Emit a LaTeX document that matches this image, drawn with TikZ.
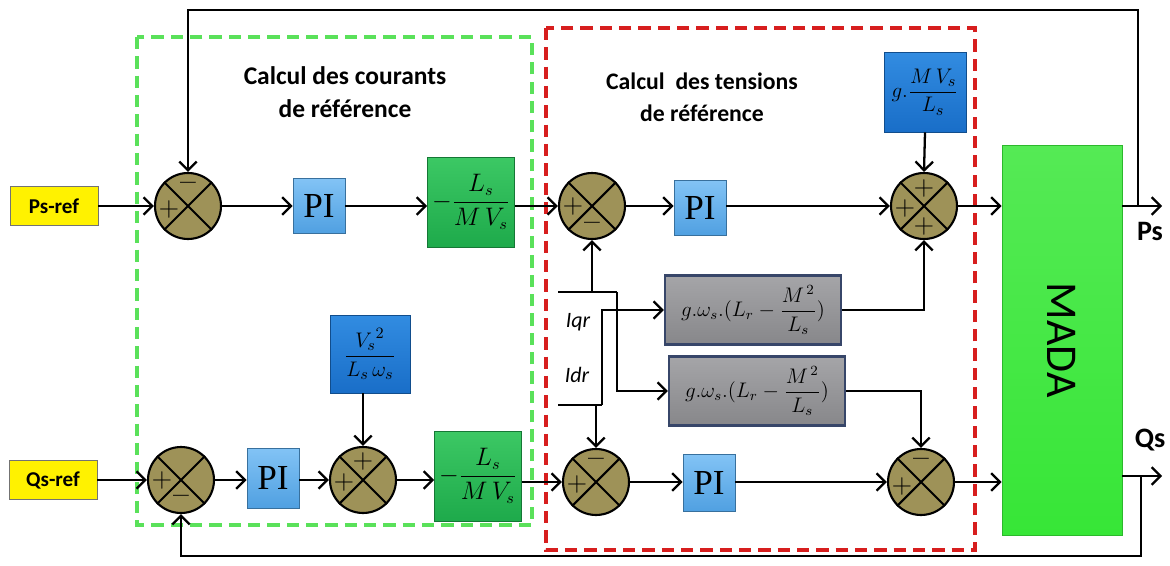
\documentclass[tikz,border=0pt]{standalone}
\usepackage{fontspec}
\usepackage{amsmath}
\usetikzlibrary{arrows.meta}
\newfontfamily\calfont{Carlito}
\newfontfamily\tnrfont{Liberation Serif}
\definecolor{sumc}{RGB}{158,146,88}
\definecolor{pic}{RGB}{80,160,225}
\definecolor{pilight}{RGB}{130,195,245}
\definecolor{gainc}{RGB}{30,170,75}
\definecolor{gainlight}{RGB}{60,200,100}
\definecolor{bluec}{RGB}{25,110,200}
\definecolor{bluelight}{RGB}{50,140,225}
\definecolor{grayc}{RGB}{135,135,138}
\definecolor{graylight}{RGB}{165,165,168}
\definecolor{grayedge}{RGB}{55,70,105}
\definecolor{madac}{RGB}{55,230,55}
\definecolor{gdashc}{RGB}{90,225,90}
\definecolor{rdashc}{RGB}{215,30,30}
\newcommand\sumX[1]{\draw[line width=1.2pt] (#1.north west) -- (#1.south east) (#1.north east) -- (#1.south west);}
\tikzset{
  wire/.style={line width=1.3pt},
  arr/.style={wire,-{Straight Barb[length=5pt,width=10pt]}},
  sumj/.style={circle, draw=black, line width=1.2pt, fill=sumc, minimum size=1.32cm, inner sep=0pt},
  refbox/.style={draw=black!55, fill=yellow, minimum width=1.76cm, minimum height=0.78cm, inner sep=0pt, font=\calfont\bfseries\fontsize{12}{14}\selectfont},
  pibox/.style={draw=pic!70!black, top color=pilight, bottom color=pic, minimum width=1.04cm, minimum height=1.1cm, inner sep=0pt, font=\tnrfont\fontsize{20}{22}\selectfont},
  gainbox/.style={draw=gainc!70!black, top color=gainlight, bottom color=gainc, minimum width=1.74cm, minimum height=1.8cm, inner sep=0pt, font=\fontsize{13.5}{15}\selectfont},
  bluebox/.style={draw=bluec!70!black, top color=bluelight, bottom color=bluec, minimum width=1.64cm, minimum height=1.6cm, inner sep=0pt, font=\fontsize{12.5}{14}\selectfont},
  graybox/.style={draw=grayedge, line width=1.2pt, top color=graylight, bottom color=grayc, minimum width=3.52cm, minimum height=1.38cm, inner sep=0pt, font=\fontsize{12}{14}\selectfont},
  sgn/.style={font=\fontsize{16}{16}\selectfont, inner sep=0pt},
  title/.style={align=center, font=\calfont\bfseries\fontsize{13.5}{18}\selectfont},
  lbl/.style={font=\calfont\bfseries\fontsize{16}{18}\selectfont},
  ilbl/.style={font=\calfont\itshape\fontsize{12.5}{14}\selectfont},
  gdash/.style={draw=gdashc, line width=2.2pt, dash pattern=on 7pt off 4pt},
  rdash/.style={draw=rdashc, line width=2.2pt, dash pattern=on 7pt off 4pt}
}
\begin{document}
\begin{tikzpicture}[x=0.02cm,y=-0.02cm]
\useasboundingbox (0,0) rectangle (1170,565);
% dashed groups
\draw[gdash] (137,37) rectangle (532,525);
\draw[rdash] (546,28) rectangle (975,550);
\node[title, font=\calfont\bfseries\fontsize{14.5}{19}\selectfont] (t1) at (345,92) {Calcul des courants\\de référence};
\node[title] (t2) at (702,97) {Calcul \ des tensions\\de référence};
% top row
\node[refbox] (psref) at (54,206) {Ps-ref};
\node[sumj] (S1) at (188,206) {};
\node[pibox] (PI1) at (319,206) {PI};
\node[gainbox] (G1) at (471,202) {$-\dfrac{L_s}{M\,V_s}$};
\node[sumj] (S2) at (592,206) {};
\node[pibox] (PI2) at (700,208) {PI};
\node[sumj] (S3) at (924,206) {};
\node[bluebox] (B1) at (925,92) {$g.\dfrac{M\,V_s}{L_s}$};
\node[draw=madac!80!black, top color=madac!85!white, bottom color=madac, minimum width=2.4cm, minimum height=7.8cm, inner sep=0pt] (MADA) at (1062,340) {};
\node[rotate=-90, font=\calfont\fontsize{25}{27}\selectfont] (madat) at (MADA.center) {MADA};
% bottom row
\node[refbox] (qsref) at (53,480) {Qs-ref};
\node[sumj] (Q1) at (181,480) {};
\node[pibox, minimum height=1.2cm] (PIQ1) at (273,478) {PI};
\node[sumj] (Q2) at (363,480) {};
\node[bluebox, minimum width=1.6cm, minimum height=1.56cm] (B2) at (370,354) {$\dfrac{{V_s}^2}{L_s\,\omega_s}$};
\node[gainbox] (G2) at (478,476) {$-\dfrac{L_s}{M\,V_s}$};
\node[sumj] (Q3) at (596,482) {};
\node[pibox, minimum height=1.14cm] (PIQ2) at (709,483) {PI};
\node[sumj] (Q4) at (921,482) {};
% gray blocks
\node[graybox] (GR1) at (753,310) {$g.\omega_s.(L_r-\dfrac{M^{\,2}}{L_s})$};
\node[graybox] (GR2) at (757,391) {$g.\omega_s.(L_r-\dfrac{M^{\,2}}{L_s})$};
% summing junction crosses
\sumX{S1}\sumX{S2}\sumX{S3}\sumX{Q1}\sumX{Q2}\sumX{Q3}\sumX{Q4}
% signs
\node[sgn] at ([shift={(-19,3)}]S1.center) {+};
\node[sgn] at ([shift={(0,-20)}]S1.center) {\textbf{--}};
\node[sgn] at ([shift={(-19,0)}]S2.center) {+};
\node[sgn] at ([shift={(0,20)}]S2.center) {\textbf{--}};
\node[sgn] at ([shift={(0,-18)}]S3.center) {+};
\node[sgn] at ([shift={(-19,2)}]S3.center) {+};
\node[sgn] at ([shift={(0,20)}]S3.center) {+};
\node[sgn] at ([shift={(-19,0)}]Q1.center) {+};
\node[sgn] at ([shift={(0,19)}]Q1.center) {\textbf{--}};
\node[sgn] at ([shift={(0,-19)}]Q2.center) {+};
\node[sgn] at ([shift={(-19,2)}]Q2.center) {+};
\node[sgn] at ([shift={(-19,2)}]Q3.center) {+};
\node[sgn] at ([shift={(0,-20)}]Q3.center) {\textbf{--}};
\node[sgn] at ([shift={(-19,4)}]Q4.center) {+};
\node[sgn] at ([shift={(0,-20)}]Q4.center) {\textbf{--}};
% top row connectors
\draw[arr] (psref.east) -- (S1.west);
\draw[arr] (S1.east) -- (PI1.west);
\draw[arr] (PI1.east) -- (G1.west |- PI1);
\draw[arr] (G1.east |- S2) -- (S2.west);
\draw[arr] (S2.east) -- (PI2.west |- S2);
\draw[arr] (PI2.east |- S3) -- (S3.west);
\draw[arr] (B1.south) -- (S3.north);
\draw[arr] (S3.east) -- (S3.east -| MADA.west);
\coordinate (psend) at (1162,206);
\coordinate (pstap) at (1138,206);
\coordinate (topR) at (1138,10);
\draw[arr] (S3.east -| MADA.east) -- (psend);
\draw[arr] (pstap) -- (topR) -| (S1.north);
\node[lbl] (ps) at (1150,231) {Ps};
% bottom row connectors
\draw[arr] (qsref.east) -- (Q1.west);
\draw[arr] (Q1.east) -- (PIQ1.west |- Q1);
\draw[arr] (PIQ1.east |- Q2) -- (Q2.west);
\draw[arr] (B2.south -| Q2) -- (Q2.north);
\draw[arr] (Q2.east) -- (G2.west |- Q2);
\draw[arr] (G2.east |- Q3) -- (Q3.west);
\draw[arr] (Q3.east) -- (PIQ2.west |- Q3);
\draw[arr] (PIQ2.east |- Q4) -- (Q4.west);
\draw[arr] (Q4.east) -- (Q4.east -| MADA.west);
\coordinate (qsend) at (1162,476);
\coordinate (qstap) at (1141,476);
\coordinate (botR) at (1141,556);
\draw[arr] (qsend -| MADA.east) -- (qsend);
\draw[arr] (qstap) -- (botR) -| (Q1.south);
\node[lbl] (qs) at (1150,440) {Qs};
% Iqr / Idr
\coordinate (iqr0) at (558,292);
\coordinate (iqrC) at (617,292);
\coordinate (idr0) at (558,405);
\coordinate (idrC) at (602,405);
\draw[wire] (iqr0) -- (iqrC);
\draw[arr] (iqrC) |- (GR2.west);
\draw[arr] (S2.south |- iqr0) -- (S2.south);
\draw[wire] (idr0) -- (idrC);
\draw[arr] (idrC) |- (GR1.west);
\draw[arr] (Q3.north |- idr0) -- (Q3.north);
\node[ilbl] (iqr) at (578,322) {Iqr};
\node[ilbl] (idr) at (577,375) {Idr};
\draw[arr] (GR1.east) -| (S3.south);
\draw[arr] (GR2.east) -| (Q4.north);
\end{tikzpicture}
\end{document}
